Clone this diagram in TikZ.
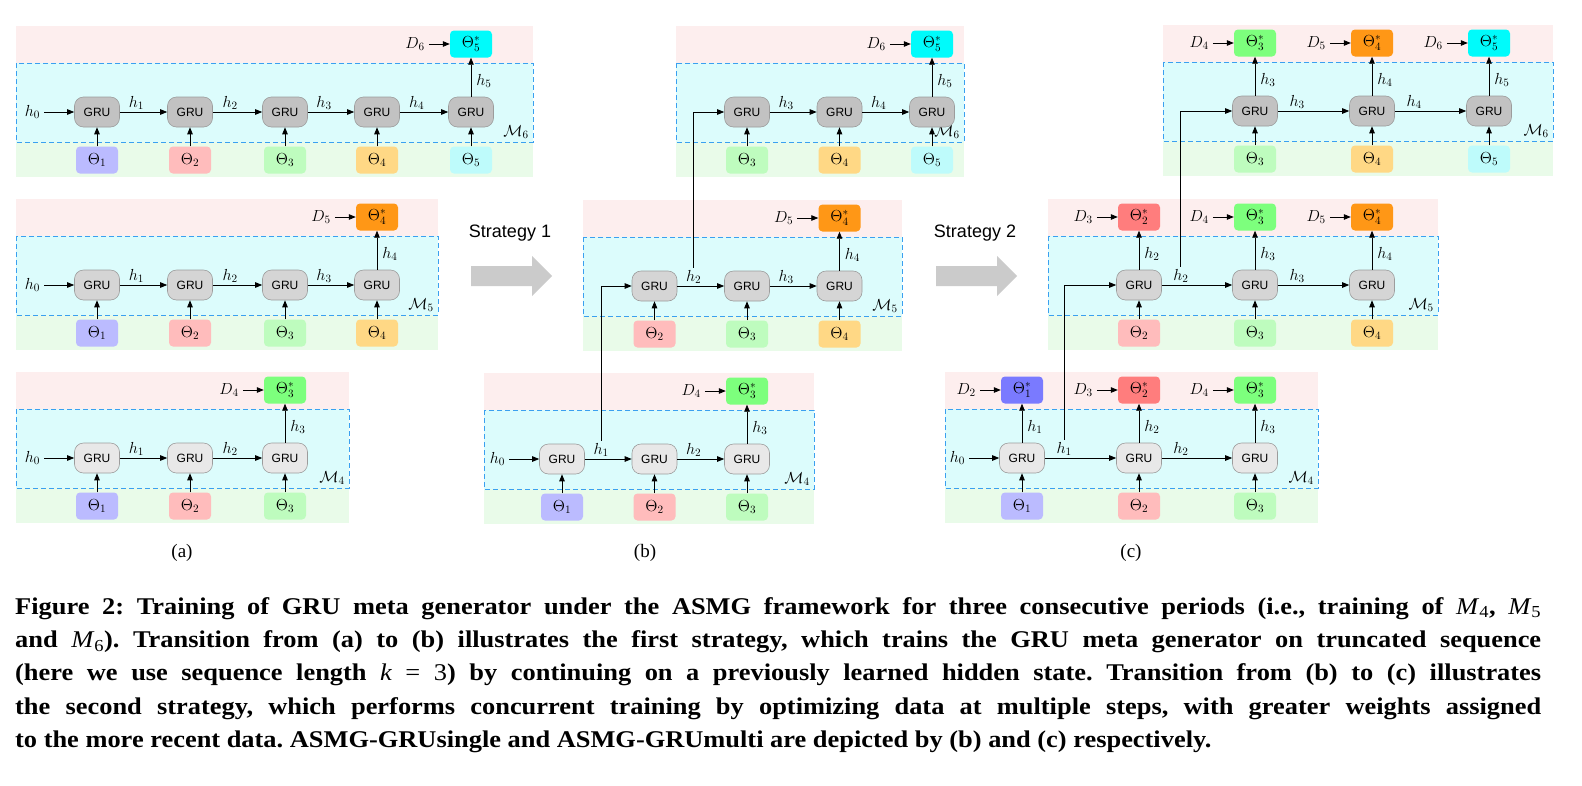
\RequirePackage{fix-cm}
\documentclass[tikz,border=0pt]{standalone}
\usepackage{fontspec}
\newfontfamily\labsans{Liberation Sans}
\newfontfamily\capserif[FakeStretch=1.1]{Liberation Serif}
\newfontfamily\subserif{Liberation Serif}
\usetikzlibrary{arrows.meta,positioning}

\definecolor{bandpink}{HTML}{FDEEEE}
\definecolor{bandcyan}{HTML}{DCFCFC}
\definecolor{bandgreen}{HTML}{E9FBE9}
\definecolor{boxblue}{HTML}{3AA0F0}
\definecolor{grusix}{HTML}{C2C2C2}
\definecolor{grufive}{HTML}{D5D5D5}
\definecolor{grufour}{HTML}{E8E8E8}
\definecolor{gruedge}{HTML}{9C9C9C}
\definecolor{bigarrow}{HTML}{CBCBCB}
\definecolor{th1}{HTML}{BBBBFF}
\definecolor{th2}{HTML}{FFBCBC}
\definecolor{th3}{HTML}{BEFCBE}
\definecolor{th4}{HTML}{FFD885}
\definecolor{th5}{HTML}{BEFBFB}
\definecolor{ts1}{HTML}{7A7AFF}
\definecolor{ts2}{HTML}{FF7D7D}
\definecolor{ts3}{HTML}{7DFF7D}
\definecolor{ts4}{HTML}{FF9716}
\definecolor{ts5}{HTML}{00FBFB}

\newcommand\mathsz{\fontsize{16}{19}\selectfont}
\newcommand\grusz{\labsans\fontsize{12}{14}\selectfont}
\newcommand\capM[1]{{\mdseries\itshape M\/}\textsubscript{\mdseries #1}}

\begin{document}
\begin{tikzpicture}[x=1pt,y=-1pt,
  gru/.style={draw=gruedge,line width=0.6pt,rounded corners=9pt,minimum width=45pt,minimum height=30pt,inner sep=0pt,font=\grusz},
  thbox/.style={rounded corners=4pt,minimum width=42pt,minimum height=27pt,inner sep=0pt,font=\mathsz},
  tsbox/.style={thbox},
  lab/.style={inner sep=2pt,font=\mathsz},
  hlab/.style={lab,above,pos=.35},
  olab/.style={lab,right=3pt,pos=.4},
  dlab/.style={inner sep=4pt,font=\mathsz},
  flow/.style={-{Triangle[length=7pt,width=5.5pt]},line width=0.8pt},
  mbox/.style={draw=boxblue,line width=1pt,dash pattern=on 5pt off 3pt}]
  \useasboundingbox (0,0) rectangle (1582,785);

  % bands of the nine runs: left, right, GRU row, period
  \foreach \l/\r/\g/\m [count=\n] in {16/533/112/6,16/438/285/5,16/349/458/4,676/964/112/6,583/902/286/5,484/814/459/4,1163/1553/111/6,1048/1438/285/5,945/1318/458/4}{
    \fill[bandpink] (\l,\g-86) rectangle (\r,\g-49);
    \fill[bandcyan] (\l,\g-49) rectangle (\r,\g+30);
    \fill[bandgreen] (\l,\g+30) rectangle (\r,\g+65);
    \draw[mbox] (\l,\g-49) rectangle (\r,\g+30);
    \node[lab,inner sep=1pt,anchor=south east] (run\n) at (\r-3,\g+28) {$\mathcal{M}_\m$};
  }

  % (a) every period restarts from h_0
  \foreach \i/\x in {1/97,2/190,3/285,4/377,5/471}{
    \node[gru,fill=grusix] (a6g\i) at (\x,112) {GRU};
    \node[thbox,fill=th\i] (a6t\i) at (\x,160) {$\Theta_\i$};
    \draw[flow] (a6t\i) -- (a6g\i);
  }
  \foreach \i/\j in {1/2,2/3,3/4,4/5}
    \draw[flow] (a6g\i) -- node[hlab] (a6h\i) {$h_\i$} (a6g\j);
  \node[dlab,left=30pt of a6g1] (a6h0) {$h_0$};
  \draw[flow] (a6h0) -- (a6g1);
  \node[tsbox,fill=ts5] (a6s5) at (471,44) {$\Theta^*_5$};
  \node[dlab,left=21pt of a6s5] (a6d5) {$D_6$};
  \draw[flow] (a6g5) -- node[olab] (a6o5) {$h_5$} (a6s5);
  \draw[flow] (a6d5) -- (a6s5);

  \foreach \i/\x in {1/97,2/190,3/285,4/377}{
    \node[gru,fill=grufive] (a5g\i) at (\x,285) {GRU};
    \node[thbox,fill=th\i] (a5t\i) at (\x,333) {$\Theta_\i$};
    \draw[flow] (a5t\i) -- (a5g\i);
  }
  \foreach \i/\j in {1/2,2/3,3/4}
    \draw[flow] (a5g\i) -- node[hlab] (a5h\i) {$h_\i$} (a5g\j);
  \node[dlab,left=30pt of a5g1] (a5h0) {$h_0$};
  \draw[flow] (a5h0) -- (a5g1);
  \node[tsbox,fill=ts4] (a5s4) at (377,217) {$\Theta^*_4$};
  \node[dlab,left=21pt of a5s4] (a5d4) {$D_5$};
  \draw[flow] (a5g4) -- node[olab] (a5o4) {$h_4$} (a5s4);
  \draw[flow] (a5d4) -- (a5s4);

  \foreach \i/\x in {1/97,2/190,3/285}{
    \node[gru,fill=grufour] (a4g\i) at (\x,458) {GRU};
    \node[thbox,fill=th\i] (a4t\i) at (\x,506) {$\Theta_\i$};
    \draw[flow] (a4t\i) -- (a4g\i);
  }
  \foreach \i/\j in {1/2,2/3}
    \draw[flow] (a4g\i) -- node[hlab] (a4h\i) {$h_\i$} (a4g\j);
  \node[dlab,left=30pt of a4g1] (a4h0) {$h_0$};
  \draw[flow] (a4h0) -- (a4g1);
  \node[tsbox,fill=ts3] (a4s3) at (285,390) {$\Theta^*_3$};
  \node[dlab,left=21pt of a4s3] (a4d3) {$D_4$};
  \draw[flow] (a4g3) -- node[olab] (a4o3) {$h_3$} (a4s3);
  \draw[flow] (a4d3) -- (a4s3);

  % (b) truncated runs go on from the hidden state learned before
  \foreach \i/\x in {1/562,2/654.5,3/747}{
    \node[gru,fill=grufour] (b4g\i) at (\x,459) {GRU};
    \node[thbox,fill=th\i] (b4t\i) at (\x,507) {$\Theta_\i$};
    \draw[flow] (b4t\i) -- (b4g\i);
  }
  \foreach \i/\j in {1/2,2/3}
    \draw[flow] (b4g\i) -- node[hlab] (b4h\i) {$h_\i$} (b4g\j);
  \node[dlab,left=30pt of b4g1] (b4h0) {$h_0$};
  \draw[flow] (b4h0) -- (b4g1);
  \node[tsbox,fill=ts3] (b4s3) at (747,391) {$\Theta^*_3$};
  \node[dlab,left=21pt of b4s3] (b4d3) {$D_4$};
  \draw[flow] (b4g3) -- node[olab] (b4o3) {$h_3$} (b4s3);
  \draw[flow] (b4d3) -- (b4s3);

  \foreach \i/\x in {2/654.5,3/747,4/839.5}{
    \node[gru,fill=grufive] (b5g\i) at (\x,286) {GRU};
    \node[thbox,fill=th\i] (b5t\i) at (\x,334) {$\Theta_\i$};
    \draw[flow] (b5t\i) -- (b5g\i);
  }
  \foreach \i/\j in {2/3,3/4}
    \draw[flow] (b5g\i) -- node[hlab] (b5h\i) {$h_\i$} (b5g\j);
  \node[tsbox,fill=ts4] (b5s4) at (839.5,218) {$\Theta^*_4$};
  \node[dlab,left=21pt of b5s4] (b5d4) {$D_5$};
  \draw[flow] (b5g4) -- node[olab] (b5o4) {$h_4$} (b5s4);
  \draw[flow] (b5d4) -- (b5s4);

  \foreach \i/\x in {3/747,4/839.5,5/932}{
    \node[gru,fill=grusix] (b6g\i) at (\x,112) {GRU};
    \node[thbox,fill=th\i] (b6t\i) at (\x,160) {$\Theta_\i$};
    \draw[flow] (b6t\i) -- (b6g\i);
  }
  \foreach \i/\j in {3/4,4/5}
    \draw[flow] (b6g\i) -- node[hlab] (b6h\i) {$h_\i$} (b6g\j);
  \node[tsbox,fill=ts5] (b6s5) at (932,44) {$\Theta^*_5$};
  \node[dlab,left=21pt of b6s5] (b6d5) {$D_6$};
  \draw[flow] (b6g5) -- node[olab] (b6o5) {$h_5$} (b6s5);
  \draw[flow] (b6d5) -- (b6s5);

  \draw[flow] (b4h1.north) |- (b5g2.west);
  \draw[flow] (b5h2.north) |- (b6g3.west);

  % (c) every step of a run is fitted to its next data
  \foreach \i/\x/\d in {1/1022/2,2/1139/3,3/1255/4}{
    \node[gru,fill=grufour] (c4g\i) at (\x,458) {GRU};
    \node[thbox,fill=th\i] (c4t\i) at (\x,506) {$\Theta_\i$};
    \node[tsbox,fill=ts\i] (c4s\i) at (\x,390) {$\Theta^*_\i$};
    \node[dlab,left=21pt of c4s\i] (c4d\i) {$D_\d$};
    \draw[flow] (c4t\i) -- (c4g\i);
    \draw[flow] (c4g\i) -- node[olab] (c4o\i) {$h_\i$} (c4s\i);
    \draw[flow] (c4d\i) -- (c4s\i);
  }
  \foreach \i/\j in {1/2,2/3}
    \draw[flow] (c4g\i) -- node[hlab,pos=.27] (c4h\i) {$h_\i$} (c4g\j);
  \node[dlab,left=30pt of c4g1] (c4h0) {$h_0$};
  \draw[flow] (c4h0) -- (c4g1);

  \foreach \i/\x/\d in {2/1139/3,3/1255/4,4/1372/5}{
    \node[gru,fill=grufive] (c5g\i) at (\x,285) {GRU};
    \node[thbox,fill=th\i] (c5t\i) at (\x,333) {$\Theta_\i$};
    \node[tsbox,fill=ts\i] (c5s\i) at (\x,217) {$\Theta^*_\i$};
    \node[dlab,left=21pt of c5s\i] (c5d\i) {$D_\d$};
    \draw[flow] (c5t\i) -- (c5g\i);
    \draw[flow] (c5g\i) -- node[olab] (c5o\i) {$h_\i$} (c5s\i);
    \draw[flow] (c5d\i) -- (c5s\i);
  }
  \foreach \i/\j in {2/3,3/4}
    \draw[flow] (c5g\i) -- node[hlab,pos=.27] (c5h\i) {$h_\i$} (c5g\j);

  \foreach \i/\x/\d in {3/1255/4,4/1372/5,5/1489/6}{
    \node[gru,fill=grusix] (c6g\i) at (\x,111) {GRU};
    \node[thbox,fill=th\i] (c6t\i) at (\x,159) {$\Theta_\i$};
    \node[tsbox,fill=ts\i] (c6s\i) at (\x,43) {$\Theta^*_\i$};
    \node[dlab,left=21pt of c6s\i] (c6d\i) {$D_\d$};
    \draw[flow] (c6t\i) -- (c6g\i);
    \draw[flow] (c6g\i) -- node[olab] (c6o\i) {$h_\i$} (c6s\i);
    \draw[flow] (c6d\i) -- (c6s\i);
  }
  \foreach \i/\j in {3/4,4/5}
    \draw[flow] (c6g\i) -- node[hlab,pos=.27] (c6h\i) {$h_\i$} (c6g\j);

  \draw[flow] (c4h1.north) |- (c5g2.west);
  \draw[flow] (c5h2.north) |- (c6g3.west);

  % strategy arrows
  \foreach \x in {471,936}
    \fill[bigarrow] (\x,266) -- (\x+61,266) -- (\x+61,256) -- (\x+81,276) -- (\x+61,296) -- (\x+61,286) -- (\x,286) -- cycle;
  \node[font=\labsans\fontsize{18}{20}\selectfont] (st1) at (510,233) {Strategy 1};
  \node[font=\labsans\fontsize{18}{20}\selectfont] (st2) at (975,233) {Strategy 2};

  \node[font=\subserif\fontsize{19}{22}\selectfont] (suba) at (182,553) {(a)};
  \node[font=\subserif\fontsize{19}{22}\selectfont] (subb) at (645,553) {(b)};
  \node[font=\subserif\fontsize{19}{22}\selectfont] (subc) at (1131,553) {(c)};

  \node[anchor=north west,inner sep=0pt,text width=1526pt,align=justify,
    font=\capserif\bfseries\fontsize{24}{33.4}\selectfont\frenchspacing] (cap) at (15,597)
    {Figure 2: Training of GRU meta generator under the ASMG framework for three consecutive periods (i.e., training of \capM{4}, \capM{5}\linebreak
    and \capM{6}). Transition from (a) to (b) illustrates the first strategy, which trains the GRU meta generator on truncated sequence\linebreak
    (here we use sequence length {\mdseries\itshape k} {\mdseries = 3}) by continuing on a previously learned hidden state. Transition from (b) to (c) illustrates\linebreak
    the second strategy, which performs concurrent training by optimizing data at multiple steps, with greater weights assigned\linebreak
    to the more recent data. ASMG-GRUsingle and ASMG-GRUmulti are depicted by (b) and (c) respectively.};
\end{tikzpicture}
\end{document}
